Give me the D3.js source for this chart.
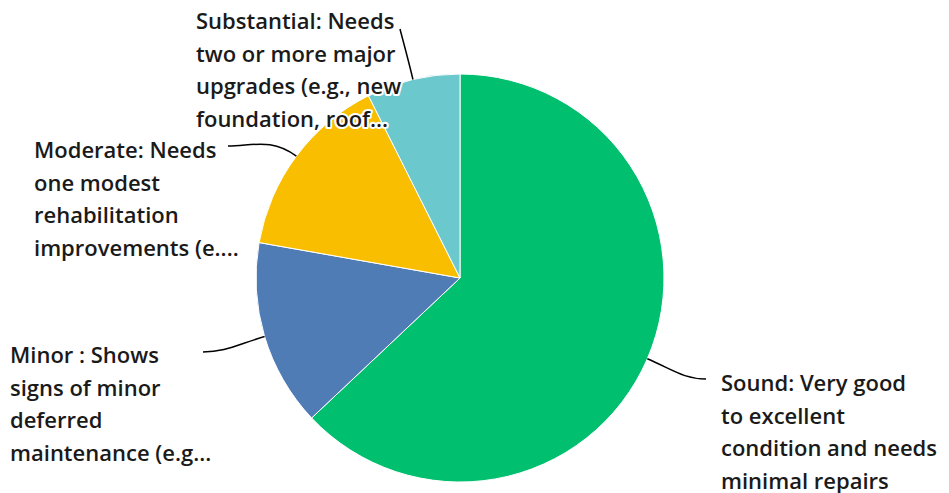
<!DOCTYPE html>
<html>
<head>
<meta charset="utf-8">
<style>
  body { margin: 0; background: #fff; }
  svg { display: block; }
  .lbl { font-family: "Open Sans", sans-serif; font-weight: 600; font-size: 22px; fill: #1a1a1a;
         stroke: #fff; stroke-width: 4px; paint-order: stroke; stroke-linejoin: round; }
</style>
</head>
<body>
<svg id="chart" width="949" height="493"></svg>
<script src="https://cdn.jsdelivr.net/npm/d3@7"></script>
<script>
// answer categories, in clockwise order from 12 o'clock
var categories = ["Sound", "Minor", "Moderate", "Substantial"]
var counts = [17, 4, 4, 2]
var colors = ["#00bf6f", "#507cb6", "#f9be00", "#6bc8cd"]
var labelLines = [
    ["Sound: Very good", "to excellent", "condition and needs", "minimal repairs"],
    ["Minor : Shows", "signs of minor", "deferred", "maintenance (e.g..."],
    ["Moderate: Needs", "one modest", "rehabilitation", "improvements (e...."],
    ["Substantial: Needs", "two or more major", "upgrades (e.g., new", "foundation, roof..."]
]
// where each label block sits, and where its leader line ends
var labelPos = [[721, 391], [10, 363], [34, 158], [196, 29]]
var leaderEnd = [[706, 379], [203, 352], [228, 146], [400, 29]]

var svg = d3.select("#chart")
var cx = 460, cy = 278, r = 204

var pie = d3.pie().sort(null).value(function(d) { return d })
var arc = d3.arc().innerRadius(0).outerRadius(r)
var arcs = pie(counts)

var g = svg.append("g").attr("transform", "translate(" + cx + "," + cy + ")")

g.selectAll("path.slice")
    .data(arcs)
    .enter().append("path")
    .attr("class", "slice")
    .attr("d", arc)
    .attr("fill", function(d, i) { return colors[i] })
    .attr("stroke", "#fff")
    .attr("stroke-width", 1)

// leader lines: from the slice's mid-angle on the rim, bending to the label
arcs.forEach(function(d, i) {
    var a = (d.startAngle + d.endAngle) / 2
    var x0 = cx + r * Math.sin(a), y0 = cy - r * Math.cos(a)
    var x1 = leaderEnd[i][0], y1 = leaderEnd[i][1]
    var dist = Math.hypot(x1 - x0, y1 - y0)
    var c1x = x0 + Math.sin(a) * dist * 0.45, c1y = y0 - Math.cos(a) * dist * 0.45
    var dir = x1 > x0 ? -1 : 1
    var c2x = x1 + dir * dist * 0.35, c2y = y1
    if (i === 3) { c2x = x1 + (x0 - x1) * 0.3; c2y = y1 + (y0 - y1) * 0.3 }
    var p = d3.path()
    p.moveTo(x0, y0)
    p.bezierCurveTo(c1x, c1y, c2x, c2y, x1, y1)
    svg.append("path")
        .attr("d", p.toString())
        .attr("fill", "none")
        .attr("stroke", "#000")
        .attr("stroke-width", 1.5)
})

labelLines.forEach(function(lines, i) {
    var t = svg.append("text")
        .attr("class", "lbl")
        .attr("x", labelPos[i][0])
        .attr("y", labelPos[i][1])
    t.selectAll("tspan")
        .data(lines)
        .enter().append("tspan")
        .attr("x", labelPos[i][0])
        .attr("dy", function(d, j) { return j === 0 ? 0 : 32.5 })
        .text(function(d) { return d })
})
</script>
</body>
</html>
